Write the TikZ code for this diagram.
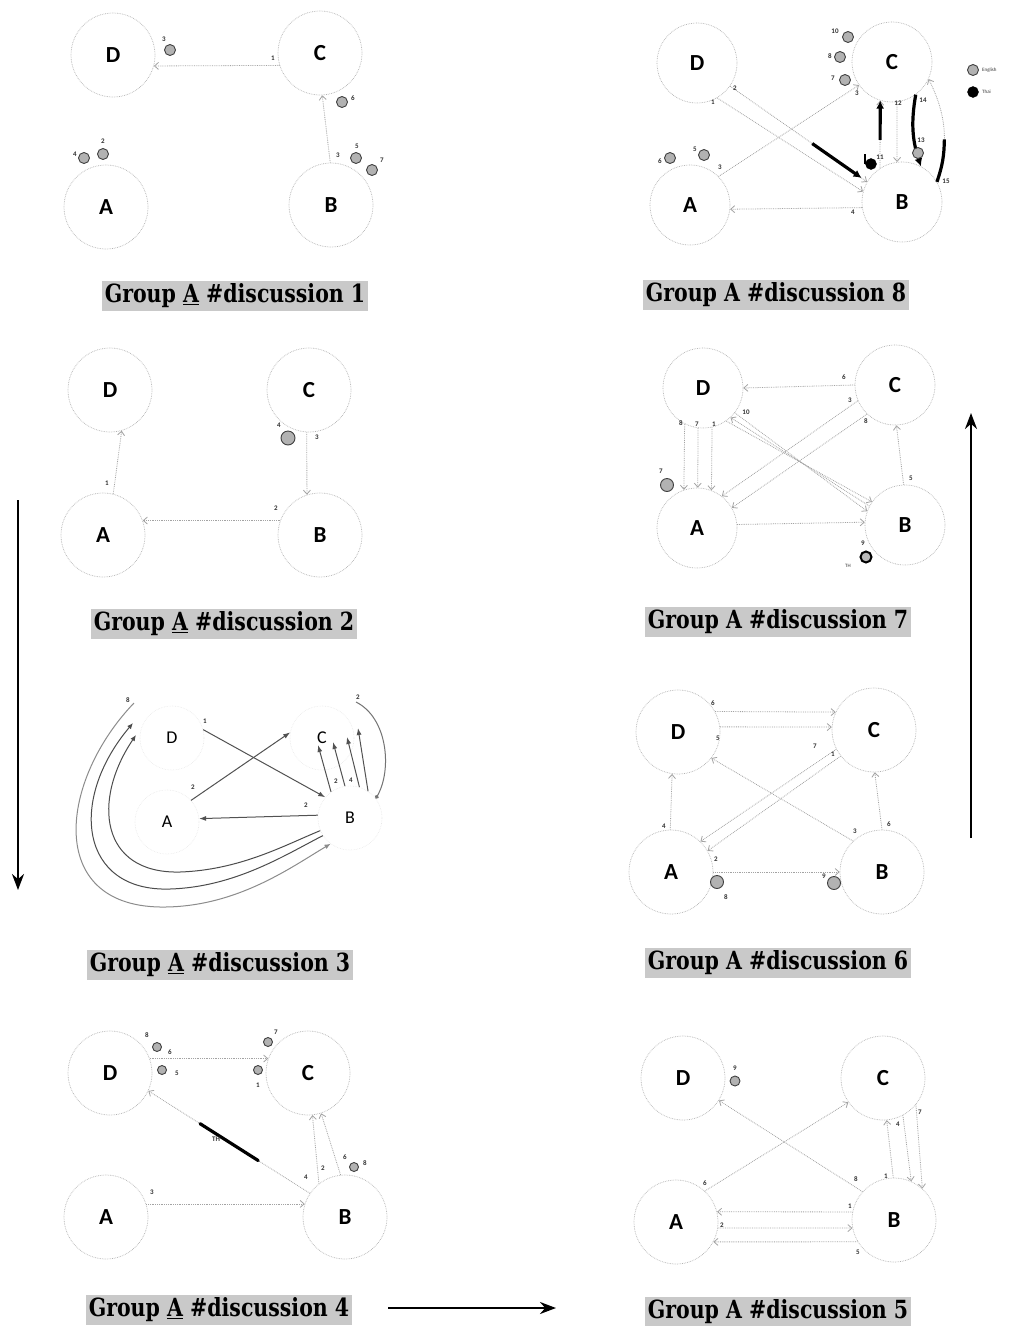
\documentclass[tikz,border=0pt]{standalone}
\usepackage{fontspec}
\setmainfont{Carlito}
\newfontfamily\ttlfont[FakeStretch=0.82]{DejaVu Serif}
\usetikzlibrary{arrows.meta}
\tikzset{
  pc/.style={circle,draw=gray!60,densely dotted,line width=0.7pt,minimum size=84pt,inner sep=0pt,font=\bfseries\fontsize{23}{23}\selectfont},
  pcs/.style={circle,draw=gray!18,densely dotted,line width=0.6pt,minimum size=64pt,inner sep=0pt,font=\fontsize{18}{18}\selectfont},
  e/.style={draw=gray!72,densely dotted,line width=0.8pt,-{Straight Barb[length=4pt,width=7pt,line width=0.8pt]}},
  de/.style={draw=black!68,line width=1pt,-{Latex[length=7pt,width=5pt]}},
  dg/.style={draw=black!55,line width=1pt},
  thk/.style={draw=black,line width=3.2pt,line cap=round},
  bub/.style={circle,fill=gray!60,draw=black!75,line width=0.9pt,minimum size=11pt,inner sep=0pt},
  tbub/.style={circle,fill=black,draw=black,minimum size=11pt,inner sep=0pt},
  num/.style={font=\bfseries\fontsize{7}{7}\selectfont,inner sep=0pt,text=black!80},
  ttl/.style={fill=gray!42,inner sep=3pt,font=\ttlfont\bfseries\fontsize{25}{27}\selectfont},
  big/.style={draw=black,line width=2.4pt,-{Stealth[length=16pt,width=12pt]}}
}
\begin{document}
\begin{tikzpicture}[x=1pt,y=-1pt]
\useasboundingbox[fill=white] (0,0) rectangle (1013,1326);

% ---------------- Panel 1 ----------------
\node[pc] (D1) at (113,55) {D};
\node[pc] (C1) at (320,53) {C};
\node[pc] (A1) at (106,207) {A};
\node[pc] (B1) at (331,205) {B};
\draw[e] (C1.197) -- (D1.-15);
\draw[e] (B1.91) -- (C1.273);
\node[num] (n1a) at (273,58) {1};
\node[num] (n1b) at (338,155) {3};
\node[bub] (u1a) at (170,50) {}; \node[num] (m1a) at (164,39) {3};
\node[bub] (u1b) at (342,102) {}; \node[num] (m1b) at (353,98) {6};
\node[bub] (u1c) at (356,158) {}; \node[num] (m1c) at (357,146) {5};
\node[bub] (u1d) at (372,170) {}; \node[num] (m1d) at (382,160) {7};
\node[bub] (u1e) at (84,158) {}; \node[num] (m1e) at (75,154) {4};
\node[bub] (u1f) at (103,154) {}; \node[num] (m1f) at (103,141) {2};
\node[ttl] (t1) at (235,296) {Group \underline{A} \#discussion 1};

% ---------------- Panel 2 ----------------
\node[pc] (D2) at (110,390) {D};
\node[pc] (C2) at (309,390) {C};
\node[pc] (A2) at (103,535) {A};
\node[pc] (B2) at (320,535) {B};
\draw[e] (A2.76) -- (D2.286);
\draw[e] (C2.267) -- (B2.108);
\draw[e] (B2.160) -- (A2.20);
\node[num] (n2a) at (107,483) {1};
\node[num] (n2b) at (317,437) {3};
\node[num] (n2c) at (276,508) {2};
\node[bub,minimum size=14pt] (u2a) at (288,438) {}; \node[num] (m2a) at (279,425) {4};
\node[ttl] (t2) at (224,624) {Group \underline{A} \#discussion 2};

% ---------------- Panel 3 ----------------
\node[pcs] (D3) at (172,738) {D};
\node[pcs] (C3) at (322,738) {C};
\node[pcs] (A3) at (167,822) {A};
\node[pcs] (B3) at (350,818) {B};
\draw[de] (D3.15) -- (B3.140);
\draw[de] (A3.42) -- (C3.170);
\draw[de] (B3.175) -- (A3.6);
\coordinate (q3a) at (318,745);
\coordinate (q3b) at (333,742);
\coordinate (q3c) at (347,737);
\coordinate (q3d) at (358,728);
\draw[de] (B3.126) -- (q3a);
\draw[de] (B3.99) -- (q3b);
\draw[de] (B3.73) -- (q3c);
\draw[de] (B3.56) -- (q3d);
\coordinate (k3c) at (356,702);
\draw[dg,-{Circle[length=4pt]}] (k3c) .. controls (388,718) and (392,770) .. (B3.37);
\coordinate (k3o) at (134,703);
\coordinate (k3m) at (133,723);
\coordinate (k3i) at (136,735);
\draw[dg,draw=black!45,-{Latex[length=6pt,width=5pt]}] (k3o) .. controls (60,780) and (45,905) .. (160,907) .. controls (235,908) and (290,868) .. (B3.233);
\draw[dg,draw=black!70,-{Latex[length=6pt,width=5pt]}] (B3.213) .. controls (285,855) and (235,887) .. (170,889) .. controls (80,892) and (68,800) .. (k3m);
\draw[dg,draw=black!70,-{Latex[length=6pt,width=5pt]}] (B3.203) .. controls (285,845) and (240,870) .. (180,872) .. controls (100,874) and (92,800) .. (k3i);
\node[num] (n3a) at (205,721) {1};
\node[num] (n3b) at (193,787) {2};
\node[num] (n3c) at (306,805) {2};
\node[num] (n3d) at (128,700) {8};
\node[num] (n3e) at (358,697) {2};
\node[num] (n3f) at (336,781) {2};
\node[num] (n3g) at (351,780) {4};
\node[ttl] (t3) at (220,965) {Group \underline{A} \#discussion 3};

% ---------------- Panel 4 ----------------
\node[pc] (D4) at (110,1073) {D};
\node[pc] (C4) at (308,1073) {C};
\node[pc] (A4) at (106,1217) {A};
\node[pc] (B4) at (345,1217) {B};
\draw[e] (D4.20) -- (C4.160);
\draw[e] (B4.146) -- coordinate[pos=0.32] (k4a) coordinate[pos=0.68] (k4b) (D4.335);
\draw[thk] (k4a) -- (k4b);
\draw[e] (A4.18) -- (B4.162);
\draw[e] (B4.128) -- (C4.276);
\draw[e] (B4.96) -- (C4.288);
\node[num] (n4a) at (152,1192) {3};
\node[num] (n4b) at (306,1177) {4};
\node[num] (n4c) at (323,1168) {2};
\node[num] (n4d) at (345,1157) {6};
\node[num] (n4e) at (216,1139) {TH};
\node[bub,minimum size=9pt] (u4a) at (157,1047) {}; \node[num] (m4a) at (147,1035) {8};
\node[num] (m4b) at (170,1052) {6};
\node[bub,minimum size=9pt] (u4c) at (162,1070) {}; \node[num] (m4c) at (177,1073) {5};
\node[bub,minimum size=9pt] (u4d) at (268,1042) {}; \node[num] (m4d) at (276,1032) {7};
\node[bub,minimum size=9pt] (u4e) at (258,1070) {}; \node[num] (m4e) at (258,1085) {1};
\node[bub,minimum size=9pt] (u4f) at (354,1167) {}; \node[num] (m4f) at (365,1163) {8};
\node[ttl] (t4) at (219,1310) {Group \underline{A} \#discussion 4};

% ---------------- Panel 5 ----------------
\node[pc] (D5) at (683,1078) {D};
\node[pc] (C5) at (883,1078) {C};
\node[pc] (A5) at (676,1222) {A};
\node[pc] (B5) at (894,1220) {B};
\draw[e] (B5.138) -- (D5.328);
\draw[e] (A5.47) -- (C5.215);
\draw[e] (B5.91) -- (C5.275);
\draw[e] (C5.298) -- (B5.66);
\draw[e] (C5.321) -- (B5.48);
\draw[e] (B5.169) -- (A5.14);
\draw[e] (A5.352) -- (B5.191);
\draw[e] (B5.211) -- (A5.332);
\node[num] (n5a) at (856,1179) {8};
\node[num] (n5b) at (705,1183) {6};
\node[num] (n5c) at (886,1176) {1};
\node[num] (n5d) at (898,1124) {4};
\node[num] (n5e) at (920,1112) {7};
\node[num] (n5f) at (850,1206) {1};
\node[num] (n5g) at (722,1225) {2};
\node[num] (n5h) at (858,1252) {5};
\node[bub,minimum size=10pt] (u5a) at (735,1081) {}; \node[num] (m5a) at (735,1068) {9};
\node[ttl] (t5) at (778,1312) {Group A \#discussion 5};

% ---------------- Panel 6 ----------------
\node[pc] (D6) at (678,732) {D};
\node[pc] (C6) at (874,730) {C};
\node[pc] (A6) at (671,872) {A};
\node[pc] (B6) at (882,872) {B};
\draw[e] (D6.29) -- (C6.155);
\draw[e] (D6.7) -- (C6.176);
\draw[e] (C6.207) -- (A6.46);
\draw[e] (C6.218) -- (A6.30);
\draw[e] (B6.133) -- (D6.322);
\draw[e] (A6.91) -- (D6.262);
\draw[e] (B6.90) -- (C6.271);
\draw[e] (A6.0) -- (B6.180);
\node[num] (n6a) at (713,703) {6};
\node[num] (n6b) at (718,738) {5};
\node[num] (n6c) at (815,746) {7};
\node[num] (n6d) at (833,754) {1};
\node[num] (n6e) at (855,831) {3};
\node[num] (n6f) at (664,826) {4};
\node[num] (n6g) at (889,824) {6};
\node[num] (n6h) at (716,859) {2};
\node[bub,minimum size=13pt] (u6a) at (717,882) {}; \node[num] (m6a) at (726,897) {8};
\node[bub,minimum size=13pt] (u6b) at (834,883) {}; \node[num] (m6b) at (824,876) {9};
\node[ttl] (t6) at (778,963) {Group A \#discussion 6};

% ---------------- Panel 7 ----------------
\node[pc,minimum size=80pt] (D7) at (703,388) {D};
\node[pc,minimum size=80pt] (C7) at (895,385) {C};
\node[pc,minimum size=80pt] (A7) at (697,528) {A};
\node[pc,minimum size=80pt] (B7) at (905,525) {B};
\draw[e] (C7.180) -- (D7.0);
\draw[e] (D7.243) -- (A7.109);
\draw[e] (D7.263) -- (A7.89);
\draw[e] (D7.283) -- (A7.69);
\draw[e] (D7.305) -- (B7.145);
\draw[e] (D7.322) -- (B7.160);
\draw[e] (B7.152) -- (D7.313);
\draw[e] (C7.203) -- (A7.52);
\draw[e] (C7.226) -- (A7.30);
\draw[e] (A7.5) -- (B7.176);
\draw[e] (B7.92) -- (C7.272);
\node[num] (n7a) at (844,377) {6};
\node[num] (n7b) at (681,423) {8};
\node[num] (n7c) at (697,424) {7};
\node[num] (n7d) at (714,424) {1};
\node[num] (n7e) at (746,412) {10};
\node[num] (n7f) at (850,400) {3};
\node[num] (n7g) at (866,421) {8};
\node[num] (n7h) at (911,478) {5};
\node[bub,minimum size=13pt] (u7a) at (667,485) {}; \node[num] (m7a) at (661,471) {7};
\node[circle,fill=gray!55,draw=black,line width=2pt,minimum size=11pt,inner sep=0pt] (u7b) at (866,557) {};
\node[num] (m7b) at (863,543) {9};
\node[num,font=\fontsize{5}{5}\selectfont] (m7c) at (848,566) {TH};
\node[ttl] (t7) at (778,622) {Group A \#discussion 7};

% ---------------- Panel 8 ----------------
\node[pc,minimum size=80pt] (D8) at (697,63) {D};
\node[pc,minimum size=80pt] (C8) at (892,62) {C};
\node[pc,minimum size=80pt] (A8) at (690,205) {A};
\node[pc,minimum size=80pt] (B8) at (902,202) {B};
\draw[e] (D8.325) -- coordinate[pos=0.6] (k8a) coordinate[pos=0.96] (k8b) (B8.150);
\draw[thk,line cap=butt,-{Latex[length=8pt,width=8pt]}] (k8a) -- (k8b);
\draw[e] (D8.300) -- (B8.165);
\draw[e] (A8.45) -- (C8.215);
\draw[e] (B8.188) -- (A8.-6);
\draw[e] (B8.123) -- coordinate[pos=0.42] (k8c) (C8.253);
\draw[thk,line cap=butt,-{Latex[length=8pt,width=8pt]}] (k8c) -- (C8.253);
\draw[e] (C8.277) -- (B8.97);
\draw[thk,line cap=butt,-{Latex[length=8pt,width=8pt]}] (C8.306) to[bend right=14] (B8.62);
\draw[e] (B8.30) to[bend right=22] coordinate[pos=0.4] (k8d) (C8.335);
\draw[thk,line cap=butt] (B8.30) to[bend right=9] (k8d);
\node[num] (n8a) at (735,88) {2};
\node[num] (n8b) at (713,102) {1};
\node[num] (n8c) at (720,167) {3};
\node[num] (n8d) at (857,93) {3};
\node[num] (n8e) at (853,212) {4};
\node[num] (n8f) at (880,157) {11};
\node[num] (n8g) at (898,103) {12};
\node[num] (n8h) at (923,100) {14};
\node[num] (n8i) at (946,181) {15};
\node[bub] (u8a) at (848,37) {}; \node[num] (m8a) at (835,31) {10};
\node[bub] (u8b) at (840,57) {}; \node[num] (m8b) at (830,56) {8};
\node[bub] (u8c) at (845,80) {}; \node[num] (m8c) at (833,78) {7};
\node[bub] (u8d) at (670,158) {}; \node[num] (m8d) at (660,161) {6};
\node[bub] (u8e) at (704,155) {}; \node[num] (m8e) at (695,149) {5};
\node[tbub] (u8f) at (871,164) {}; \draw[line width=2pt] (u8f.west) -- ++(0,-10);
\node[bub] (u8g) at (918,153) {}; \node[num] (m8g) at (921,140) {13};
\node[bub] (u8h) at (973,70) {}; \node[num,font=\fontsize{5}{5}\selectfont,anchor=west] (m8h) at (982,70) {English};
\node[tbub] (u8i) at (973,92) {}; \node[num,font=\fontsize{5}{5}\selectfont,anchor=west] (m8i) at (982,92) {Thai};
\node[ttl] (t8) at (776,295) {Group A \#discussion 8};

% ---------------- big arrows ----------------
\coordinate (g1) at (18,500);
\coordinate (g2) at (18,890);
\draw[big] (g1) -- (g2);
\coordinate (g3) at (388,1308);
\coordinate (g4) at (556,1308);
\draw[big] (g3) -- (g4);
\coordinate (g5) at (971,838);
\coordinate (g6) at (971,413);
\draw[big] (g5) -- (g6);
\end{tikzpicture}
\end{document}
